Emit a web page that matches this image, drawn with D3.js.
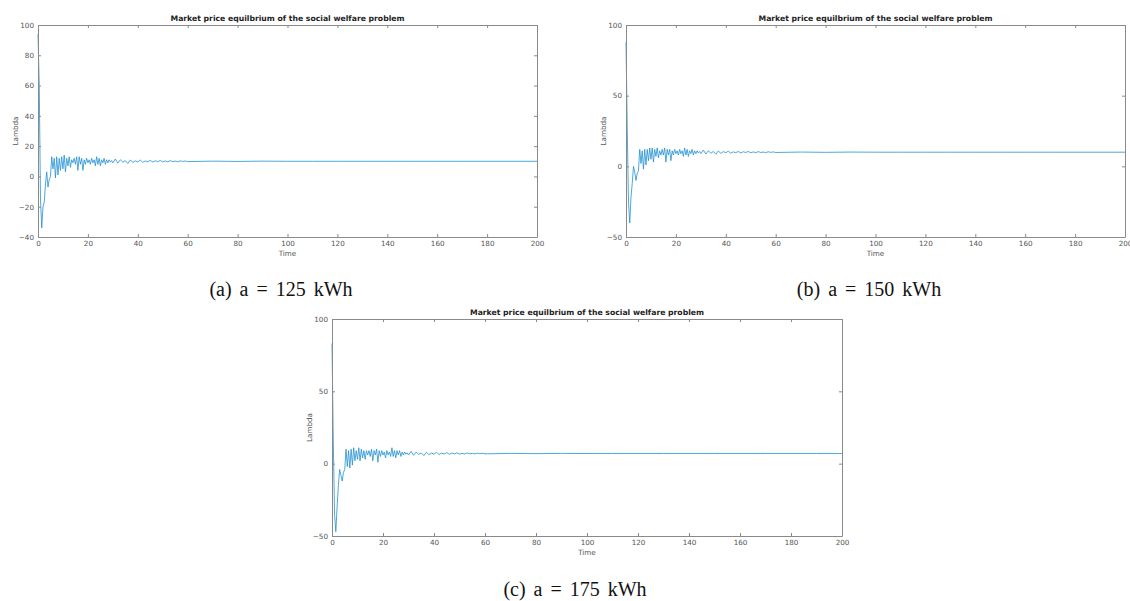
<!DOCTYPE html>
<html lang="en">
<head>
<meta charset="utf-8" />
<title>Market price equilibrium</title>
<script src="https://d3js.org/d3.v7.min.js"></script>
<style>
  body { margin: 0; background: #fff; }
  svg text { font-family: "DejaVu Sans", sans-serif; }
</style>
</head>
<body>
<div id="chart"></div>
<script>
// time stamps shared by the three runs
const time = [
  0, 0.5, 1, 1.5, 2, 2.5, 3, 3.5, 4, 4.5,
  5, 5.5, 6, 6.5, 7, 7.5, 8, 8.5, 9, 9.5,
  10, 10.5, 11, 11.5, 12, 12.5, 13, 13.5, 14, 14.5,
  15, 15.5, 16, 16.5, 17, 17.5, 18, 18.5, 19, 19.5,
  20, 20.5, 21, 21.5, 22, 22.5, 23, 23.5, 24, 24.5,
  25, 25.5, 26, 26.5, 27, 27.5, 28, 28.5, 29, 29.5,
  30,
  31, 32, 33, 34, 35, 36, 37, 38, 39, 40,
  41, 42, 43, 44, 45, 46, 47, 48, 49, 50,
  51, 52, 53, 54, 55, 56, 57, 58, 59, 60,
  70, 80, 90, 100, 110, 120, 130, 140, 150, 160, 170, 180, 190, 200
];

// (a) a = 125 kWh
const lambdaA = [
  94, 60, -15, -34, -20, -17, -5, 3, -7, -2,
  0, 13, 5, 12, -1, 13, 1, 12, 4, 13,
  5, 14, 3, 12, 7, 13, 6, 11, 9, 12,
  8, 13, 4, 13, 8, 12, 4, 11, 8, 12,
  9, 11, 8, 12, 9, 11, 7, 13, 8, 12,
  7, 11, 9, 12, 8, 11, 9, 11, 9.5, 10.5,
  9,
  11.5, 8.8, 11, 9.4, 10.4, 8.5, 10.9, 9.2, 10.3, 9.6,
  10.8, 9.3, 10.2, 9.7, 10.6, 9.5, 10.3, 9.8, 10.5, 9.6,
  10.2, 9.7, 10.4, 9.8, 10.1, 9.7, 10.3, 9.9, 10.2, 9.8,
  10.1, 9.9, 10.1, 10, 10, 10, 10, 10, 10, 10, 10, 10, 10, 10
];

// (b) a = 150 kWh
const lambdaB = [
  88, 27, -25, -40, -22, -12, 0, -4, -10, -5,
  -3, 12, 2, 11, -2, 12, 1, 12, 4, 13,
  5, 13, 3, 12, 7, 13, 6, 11, 8, 12,
  8, 13, 3, 12, 8, 12, 4, 11, 8, 12,
  9, 11, 8, 12, 9, 11, 7, 13, 8, 12,
  7, 11, 9, 12, 8, 11, 9, 11, 9.5, 10.5,
  9,
  11.5, 8.7, 11, 9.3, 10.5, 8.6, 10.9, 9.2, 10.4, 9.6,
  10.7, 9.3, 10.2, 9.7, 10.5, 9.5, 10.3, 9.8, 10.5, 9.6,
  10.2, 9.7, 10.4, 9.8, 10.1, 9.7, 10.3, 9.9, 10.2, 9.8,
  10.1, 9.9, 10.1, 10, 10, 10, 10, 10, 10, 10, 10, 10, 10, 10
];

// (c) a = 175 kWh
const lambdaC = [
  83, 16, -35, -47, -30, -15, -4, -8, -12, -6,
  -4, 10, -2, 9, -3, 10, -1, 11, 2, 9,
  3, 11, 2, 10, 4, 9, 3, 9, 6, 9,
  5, 10, 2, 9, 6, 10, 1, 9, 5, 9,
  6, 8, 4, 9, 6, 8, 5, 11, 5, 9,
  4, 9, 6, 9, 5, 8, 6, 8, 6.5, 7.5,
  6,
  8.5, 5.8, 8, 6.4, 7.4, 5.6, 7.9, 6.2, 7.3, 6.6,
  7.8, 6.3, 7.2, 6.7, 7.6, 6.5, 7.3, 6.8, 7.5, 6.6,
  7.2, 6.7, 7.4, 6.8, 7.1, 6.7, 7.3, 6.9, 7.2, 6.8,
  7.1, 6.9, 7.1, 7, 7, 7, 7, 7, 7, 7, 7, 7, 7, 7
];

const xTicks = [0, 20, 40, 60, 80, 100, 120, 140, 160, 180, 200];
const yTicksA = [-40, -20, 0, 20, 40, 60, 80, 100];
const yTicksBC = [-50, 0, 50, 100];

const title = "Market price equilbrium of the social welfare problem";
const captions = ["(a) a = 125 kWh", "(b) a = 150 kWh", "(c) a = 175 kWh"];

const panels = [
  {left: 38, top: 25, width: 499, height: 212, values: lambdaA, yDomain: [-40, 100], yTicks: yTicksA, caption: captions[0], capX: 281, capY: 296},
  {left: 626, top: 25, width: 499, height: 212, values: lambdaB, yDomain: [-50, 100], yTicks: yTicksBC, caption: captions[1], capX: 869, capY: 296},
  {left: 332, top: 319, width: 510, height: 217, values: lambdaC, yDomain: [-50, 100], yTicks: yTicksBC, caption: captions[2], capX: 575, capY: 596}
];

const svg = d3.select("#chart")
  .append("svg")
    .attr("width", 1130)
    .attr("height", 601);

const axisColor = "#8a8a8a";
const textColor = "#555";

panels.forEach(function(p) {
  const g = svg.append("g")
    .attr("transform", `translate(${p.left}, ${p.top})`);

  const x = d3.scaleLinear().domain([0, 200]).range([0, p.width]);
  const y = d3.scaleLinear().domain(p.yDomain).range([p.height, 0]);

  // line
  const line = d3.line()
    .x(function(d, i) { return x(time[i]); })
    .y(function(d) { return y(d); });
  g.append("path")
    .datum(p.values)
    .attr("fill", "none")
    .attr("stroke", "#2290d2")
    .attr("stroke-width", 0.8)
    .attr("d", line);

  // axes, ticks pointing inside like matlab
  const bottom = g.append("g")
    .attr("transform", `translate(0, ${p.height})`)
    .call(d3.axisBottom(x).tickValues(xTicks).tickSizeInner(-3).tickSizeOuter(0).tickPadding(4));
  const left = g.append("g")
    .call(d3.axisLeft(y).tickValues(p.yTicks).tickSizeInner(-3).tickSizeOuter(0).tickPadding(4));
  const top = g.append("g")
    .call(d3.axisTop(x).tickValues(xTicks).tickSizeInner(-3).tickSizeOuter(0).tickFormat(""));
  const right = g.append("g")
    .attr("transform", `translate(${p.width}, 0)`)
    .call(d3.axisRight(y).tickValues(p.yTicks).tickSizeInner(-3).tickSizeOuter(0).tickFormat(""));

  [bottom, left, top, right].forEach(function(a) {
    a.selectAll("path, line").attr("stroke", axisColor);
    a.selectAll("text")
      .attr("fill", textColor)
      .style("font-size", "7.2px");
  });

  // title
  g.append("text")
    .attr("x", p.width / 2)
    .attr("y", -4)
    .attr("text-anchor", "middle")
    .style("font-size", "7.7px")
    .style("font-weight", "bold")
    .attr("fill", "#222")
    .text(title);

  // axis labels
  g.append("text")
    .attr("x", p.width / 2)
    .attr("y", p.height + 19)
    .attr("text-anchor", "middle")
    .style("font-size", "7.2px")
    .attr("fill", textColor)
    .text("Time");

  g.append("text")
    .attr("transform", "rotate(-90)")
    .attr("x", -p.height / 2)
    .attr("y", -20)
    .attr("text-anchor", "middle")
    .style("font-size", "7.2px")
    .attr("fill", textColor)
    .text("Lambda");

  // caption under the plot
  svg.append("text")
    .attr("x", p.capX)
    .attr("y", p.capY)
    .attr("text-anchor", "middle")
    .style("font-family", "'Liberation Serif', serif")
    .style("font-size", "20px")
    .style("word-spacing", "3px")
    .attr("fill", "#111")
    .text(p.caption);
});
</script>
</body>
</html>
